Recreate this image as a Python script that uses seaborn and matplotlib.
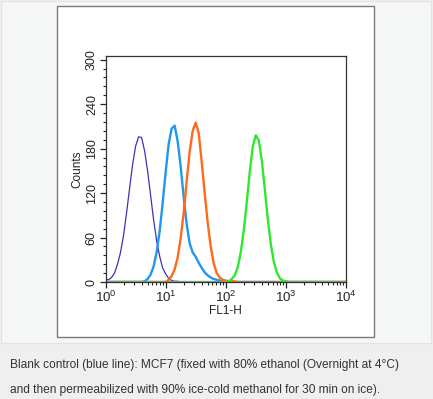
#!/usr/bin/env python3

import numpy as np
import pandas as pd
import seaborn as sns
import matplotlib
matplotlib.use("Agg")
import matplotlib.pyplot as plt
from matplotlib.patches import Rectangle
from matplotlib.ticker import FixedLocator, AutoMinorLocator, NullFormatter, FixedFormatter

# FL1-H channel positions, in decades (10**d)
decades = [0.00, 0.05, 0.10, 0.15, 0.20, 0.25, 0.30, 0.35, 0.40, 0.45,
           0.50, 0.55, 0.60, 0.65, 0.70, 0.75, 0.80, 0.85, 0.90, 0.95,
           1.00, 1.05, 1.10, 1.15, 1.20, 1.25, 1.30, 1.35, 1.40, 1.45,
           1.50, 1.55, 1.60, 1.65, 1.70, 1.75, 1.80, 1.85, 1.90, 1.95,
           2.00, 2.05, 2.10, 2.15, 2.20, 2.25, 2.30, 2.35, 2.40, 2.45,
           2.50, 2.55, 2.60, 2.65, 2.70, 2.75, 2.80, 2.85, 2.90, 2.95,
           3.00, 3.05, 3.10, 4.00]

# counts
blank = [4, 3, 6, 12, 24, 40, 63, 93, 126, 158,
         183, 196, 195, 177, 150, 117, 84, 56, 35, 19,
         11, 5, 2, 1, 1, 0, 0, 0, 0, 0,
         0, 0, 0, 0, 0, 0, 0, 0, 0, 0,
         0, 0, 0, 0, 0, 0, 0, 0, 0, 0,
         0, 0, 0, 0, 0, 0, 0, 0, 0, 0,
         0, 0, 0, 0]
light_blue = [0, 0, 0, 0, 0, 0, 0, 0, 0, 0,
              0, 0, 0, 1, 4, 10, 21, 40, 68, 106,
              148, 186, 207, 211, 190, 156, 115, 78, 52, 40,
              34, 26, 19, 13, 9, 6, 4, 3, 2, 1,
              0, 0, 0, 0, 0, 0, 0, 0, 0, 0,
              0, 0, 0, 0, 0, 0, 0, 0, 0, 0,
              0, 0, 0, 0]
orange = [0, 0, 0, 0, 0, 0, 0, 0, 0, 0,
          0, 0, 0, 0, 0, 0, 0, 0, 0, 0,
          0, 3, 8, 17, 33, 59, 93, 136, 176, 204,
          215, 201, 162, 120, 80, 48, 25, 12, 6, 3,
          2, 1, 1, 1, 0, 0, 0, 0, 0, 0,
          0, 0, 0, 0, 0, 0, 0, 0, 0, 0,
          0, 0, 0, 0]
green = [0, 0, 0, 0, 0, 0, 0, 0, 0, 0,
         0, 0, 0, 0, 0, 0, 0, 0, 0, 0,
         0, 0, 0, 0, 0, 0, 0, 0, 0, 0,
         0, 0, 0, 0, 0, 0, 0, 0, 0, 0,
         0, 1, 4, 9, 20, 40, 70, 108, 149, 183,
         198, 191, 164, 125, 84, 51, 27, 13, 5, 2,
         1, 0, 0, 0]

series = [("blank", blank, "#3a34b8", 0.9),
          ("light_blue", light_blue, "#2196f0", 1.7),
          ("orange", orange, "#ff6a1a", 1.7),
          ("green", green, "#2ee82e", 1.7)]

x_ticks = [1, 10, 100, 1000, 10000]
x_ticklabels = [r"$10^{0}$", r"$10^{1}$", r"$10^{2}$", r"$10^{3}$", r"$10^{4}$"]
y_ticks = [0, 60, 120, 180, 240, 300]

caption = ["Blank control (blue line): MCF7 (fixed with 80% ethanol (Overnight at 4\u00b0C)",
           "and then permeabilized with 90% ice-cold methanol for 30 min on ice)."]


def main():
    sns.set_theme(style="ticks")
    plt.rcParams["font.family"] = ["Liberation Sans", "DejaVu Sans"]
    plt.rcParams["mathtext.fontset"] = "custom"
    plt.rcParams["mathtext.rm"] = "Liberation Sans"
    plt.rcParams["mathtext.it"] = "Liberation Sans"

    W, H = 433, 399
    fig = plt.figure(figsize=(W / 100, H / 100), dpi=100)
    fig.patch.set_facecolor("#eeefee")

    # page panel + white image frame
    fig.patches.append(Rectangle((1 / W, 1 - 343 / H), 430 / W, 342 / H,
                                 transform=fig.transFigure, facecolor="#f5f6f6",
                                 edgecolor="#e2e4e4", lw=0.8, zorder=0))
    fig.patches.append(Rectangle((57 / W, 1 - 337 / H), 317 / W, 331 / H,
                                 transform=fig.transFigure, facecolor="white",
                                 edgecolor="#7a7a7a", lw=1.0, zorder=1))

    ax = fig.add_axes([105.5 / W, 1 - 282 / H, 240.5 / W, 226 / H])
    ax.set_zorder(2)
    ax.patch.set_alpha(0)

    x = [10 ** d for d in decades]
    for name, vals, color, lw in series:
        d = pd.DataFrame({"x": x, "y": vals})
        sns.lineplot(data=d, x="x", y="y", ax=ax, color=color, lw=lw,
                     estimator=None, sort=False)

    ax.set_xscale("log")
    ax.set_xlim(1, 1e4)
    ax.set_ylim(0, 305)
    ax.xaxis.set_major_locator(FixedLocator(x_ticks))
    ax.xaxis.set_major_formatter(FixedFormatter(x_ticklabels))
    minors = [m * 10 ** k for k in range(4) for m in range(2, 10)]
    ax.xaxis.set_minor_locator(FixedLocator(minors))
    ax.xaxis.set_minor_formatter(NullFormatter())
    ax.yaxis.set_major_locator(FixedLocator(y_ticks))
    ax.yaxis.set_minor_locator(AutoMinorLocator(5))

    ax.tick_params(axis="both", which="major", length=4, width=0.9, color="#222222",
                   labelcolor="#222222", pad=1.5)
    ax.tick_params(axis="x", which="major", labelsize=9.5)
    ax.tick_params(axis="y", which="major", labelsize=9)
    ax.tick_params(axis="both", which="minor", length=2.5, width=0.8, color="#222222")
    for lab in ax.get_yticklabels():
        lab.set_rotation(90)
        lab.set_va("center")

    ax.set_xlabel("FL1-H", fontsize=8.5, color="#222222", labelpad=0)
    ax.set_ylabel("Counts", fontsize=8.5, color="#222222", labelpad=2)
    for s in ax.spines.values():
        s.set_color("#333333")
        s.set_linewidth(0.9)

    fig.text(10 / W, 1 - 365 / H, caption[0], fontsize=8.6, color="#333333", va="center")
    fig.text(10 / W, 1 - 390 / H, caption[1], fontsize=8.6, color="#333333", va="center")

    fig.savefig("out.png", dpi=100, facecolor=fig.get_facecolor())


if __name__ == "__main__":
    main()
